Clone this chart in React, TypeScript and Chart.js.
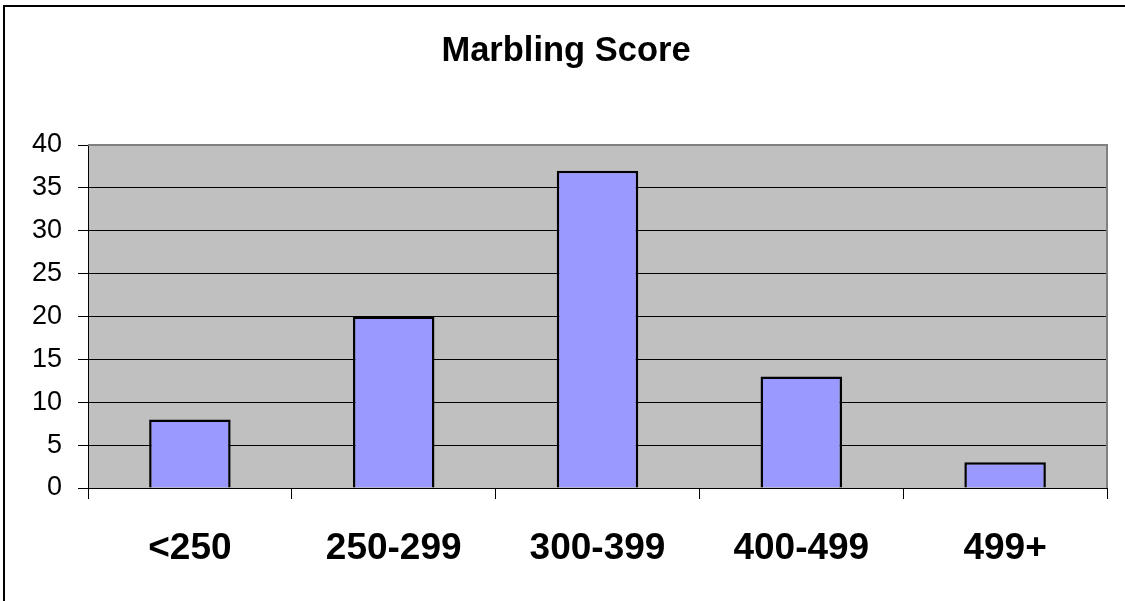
import React, { useEffect, useRef } from "react";
import { Chart, registerables } from "chart.js";

Chart.register(...registerables);

const titleText = "Marbling Score";
const categories = ["<250", "250-299", "300-399", "400-499", "499+"];
const counts = [8, 20, 37, 13, 3];
const yMin = 0;
const yMax = 40;
const yStep = 5;

const FONT = "'Liberation Sans', Arial, Helvetica, sans-serif";

const framePlugin = {
  id: "framePlugin",
  beforeDraw(chart: any) {
    const { ctx, chartArea } = chart;
    ctx.save();
    ctx.fillStyle = "#ffffff";
    ctx.fillRect(0, 0, chart.width, chart.height);
    ctx.fillStyle = "#C0C0C0";
    ctx.fillRect(chartArea.left, chartArea.top, chartArea.right - chartArea.left, chartArea.bottom - chartArea.top);
    ctx.restore();
  },
  afterDraw(chart: any) {
    const { ctx, chartArea } = chart;
    ctx.save();
    // plot frame (top & right) in gray
    ctx.strokeStyle = "#808080";
    ctx.lineWidth = 2;
    ctx.beginPath();
    ctx.moveTo(chartArea.left, chartArea.top);
    ctx.lineTo(chartArea.right, chartArea.top);
    ctx.lineTo(chartArea.right, chartArea.bottom);
    ctx.stroke();
    // outer chart border (top & left)
    ctx.strokeStyle = "#000000";
    ctx.lineWidth = 2;
    ctx.beginPath();
    ctx.moveTo(4, chart.height);
    ctx.lineTo(4, 6);
    ctx.lineTo(chart.width, 6);
    ctx.stroke();
    // title
    ctx.fillStyle = "#000000";
    ctx.font = `bold 34.5px ${FONT}`;
    ctx.textAlign = "center";
    ctx.textBaseline = "middle";
    ctx.fillText(titleText, 566, 51.5);
    ctx.restore();
  },
};

export default function App() {
  const canvasRef = useRef<HTMLCanvasElement | null>(null);

  useEffect(() => {
    if (!canvasRef.current) return;
    const chart = new Chart(canvasRef.current, {
      type: "bar",
      data: {
        labels: categories,
        datasets: [
          {
            label: titleText,
            data: counts,
            backgroundColor: "#9999FF",
            borderColor: "#000000",
            borderWidth: 2.5,
            barPercentage: 0.4,
            categoryPercentage: 1,
          },
        ],
      },
      options: {
        responsive: false,
        animation: false,
        devicePixelRatio: 1,
        layout: { padding: { left: 0, right: 18, top: 145, bottom: 0 } },
        plugins: {
          legend: { display: false },
          tooltip: { enabled: false },
          title: { display: false },
        },
        scales: {
          x: {
            offset: true,
            grid: {
              display: true,
              drawOnChartArea: false,
              drawTicks: true,
              tickLength: 11,
              tickColor: "#000000",
              offset: true,
            },
            border: { display: true, color: "#000000", width: 1 },
            ticks: {
              color: "#000000",
              padding: 28,
              maxRotation: 0,
              font: { family: FONT, size: 37, weight: "bold" },
            },
            afterFit(scale: any) {
              scale.height = 113;
            },
          },
          y: {
            min: yMin,
            max: yMax,
            grid: {
              color: "#000000",
              lineWidth: 1,
              drawTicks: true,
              tickLength: 10,
              tickColor: "#000000",
            },
            border: { display: true, color: "#000000", width: 1 },
            ticks: {
              stepSize: yStep,
              color: "#000000",
              padding: 16,
              font: { family: FONT, size: 27 },
            },
            afterFit(scale: any) {
              scale.width = 88;
            },
          },
        },
      },
      plugins: [framePlugin],
    });
    return () => chart.destroy();
  }, []);

  return (
    <div style={{ position: "fixed", left: 0, top: 0, width: 1125, height: 601, background: "#fff" }}>
      <canvas ref={canvasRef} width={1125} height={601} style={{ display: "block" }} />
    </div>
  );
}
